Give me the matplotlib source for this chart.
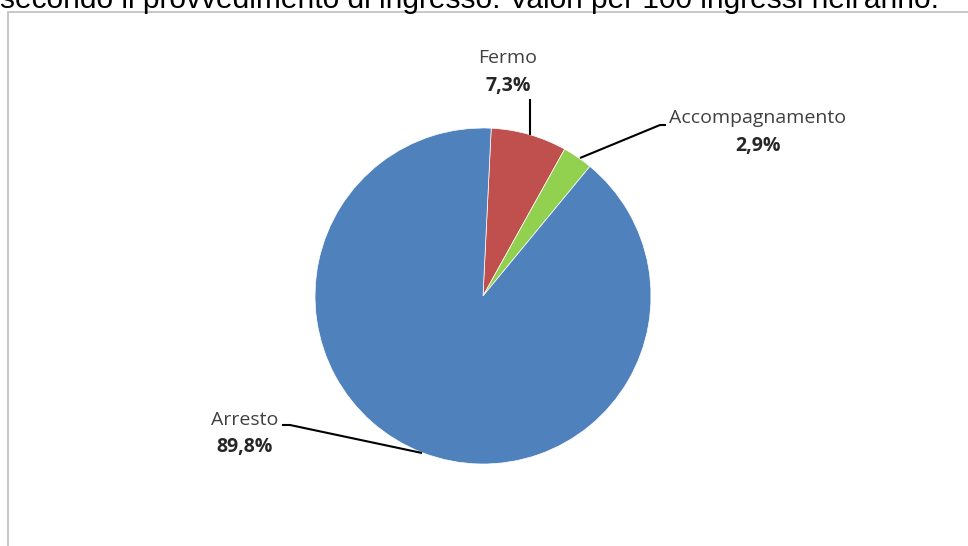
import matplotlib
matplotlib.use("Agg")
import matplotlib.pyplot as plt
from matplotlib.patches import Rectangle

categories = ["Fermo", "Accompagnamento", "Arresto"]
values = [7.3, 2.9, 89.8]
value_labels = ["7,3%", "2,9%", "89,8%"]
colors = ["#C0504D", "#92D050", "#4F81BD"]
title = "secondo il provvedimento di ingresso. Valori per 100 ingressi nell'anno."

W, H = 968, 546
fig = plt.figure(figsize=(W / 100, H / 100), dpi=100)
ax = fig.add_axes([0, 0, 1, 1])
ax.set_xlim(0, W)
ax.set_ylim(0, H)
ax.set_aspect("equal")
ax.axis("off")

def py(y):
    return H - y

# frame
ax.add_patch(Rectangle((8, py(560)), 980, 548, fill=False, edgecolor="#BFBFBF", lw=1.2))

# title, clipped at the top edge as in the reference
fig.text(0.0, 1 - 8 / H, title, ha="left", va="baseline", fontsize=21.5,
         family="Liberation Sans", color="black")

ax.pie(values, colors=colors, startangle=87.2, counterclock=False,
       center=(483, py(296)), radius=168, frame=True,
       wedgeprops=dict(edgecolor="white", linewidth=0.5))
ax.set_xlim(0, W)
ax.set_ylim(0, H)
ax.axis("off")

font = "Open Sans"
fs = 14
# label positions (pixel coords)
lab_pos = [(508, 58, 86), (758, 118, 146), (245, 420, 447)]
for (x, yn, yv), name, vl in zip(lab_pos, categories, value_labels):
    ax.text(x, py(yn), name, ha="center", va="center", fontsize=fs, family=font, color="#404040")
    ax.text(x, py(yv), vl, ha="center", va="center", fontsize=fs, family=font,
            fontweight="bold", color="#262626")

# leader lines
leaders = [
    [(530, 99), (530, 135)],
    [(580, 158), (660, 125), (666, 125)],
    [(282, 425), (290, 425), (422, 453)],
]
for pts in leaders:
    ax.plot([p[0] for p in pts], [py(p[1]) for p in pts], color="black", lw=1.5,
            solid_capstyle="butt")

fig.savefig("out.png", dpi=100)
